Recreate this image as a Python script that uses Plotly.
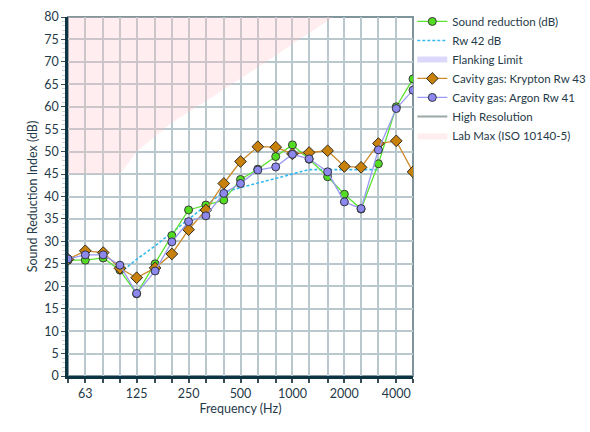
import plotly.graph_objects as go

bands = [50, 63, 80, 100, 125, 160, 200, 250, 315, 400, 500, 630, 800, 1000,
         1250, 1600, 2000, 2500, 3150, 4000, 5000]
tick_labels = ["", "63", "", "", "125", "", "", "250", "", "", "500", "", "",
               "1000", "", "", "2000", "", "", "4000", ""]

sound_reduction = [25.8, 25.8, 26.3, 23.6, 18.3, 25.0, 31.3, 37.0, 38.1, 39.2, 43.8,
                   46.1, 48.9, 51.5, 48.3, 44.4, 40.5, 37.2, 47.3, 60.0, 66.2]
krypton = [26.0, 27.9, 27.5, 24.0, 21.9, 24.1, 27.2, 32.6, 37.0, 42.9, 47.8,
           51.1, 51.0, 49.5, 49.8, 50.2, 46.7, 46.5, 51.8, 52.4, 45.5]
argon = [26.1, 27.0, 27.0, 24.7, 18.4, 23.4, 29.9, 34.4, 35.7, 40.7, 42.9,
         45.9, 46.6, 49.4, 48.4, 45.5, 38.8, 37.3, 50.4, 59.6, 63.7]

rw_bands = [100, 125, 160, 200, 250, 315, 400, 500, 630, 800, 1000, 1250,
            1600, 2000, 2500, 3150]
rw_curve = [23, 26, 29, 32, 35, 38, 41, 42, 43, 44, 45, 46, 46, 46, 46, 46]

lab_bands = [50, 63, 80, 100, 125, 160, 200, 250, 315, 400, 500, 630, 800,
             1000, 1250, 1600, 2000]
lab_max = [45, 45, 45, 45, 50, 53.5, 56.5, 58.8, 61.3, 63.8, 66.3, 68.8, 71.4,
           74.0, 76.5, 79.1, 81.6]
y_top = 80

FONT = "Lato"
TXT = "#1f3a48"

fig = go.Figure()

# Lab Max filled region (curve up to top of chart)
fig.add_trace(go.Scatter(
    x=lab_bands + lab_bands[::-1],
    y=lab_max + [y_top] * len(lab_bands),
    fill="toself", fillcolor="rgba(255,190,198,0.28)",
    line=dict(width=0), mode="lines", hoverinfo="skip",
    name="Lab Max (ISO 10140-5)", legendrank=7,
))

fig.add_trace(go.Scatter(
    x=rw_bands, y=rw_curve, mode="lines", name="Rw 42 dB",
    line=dict(color="#36b9f0", width=1.6, dash="3px,2px"), legendrank=2,
))

fig.add_trace(go.Scatter(
    x=[None], y=[None], mode="lines", name="Flanking Limit",
    line=dict(color="#dcd8fb", width=6), legendrank=3,
))
fig.add_trace(go.Scatter(
    x=[None], y=[None], mode="lines", name="High Resolution",
    line=dict(color="#9aaaa8", width=2), legendrank=6,
))

fig.add_trace(go.Scatter(
    x=bands, y=sound_reduction, mode="lines+markers", name="Sound reduction (dB)",
    line=dict(color="#5be232", width=1.3),
    marker=dict(symbol="circle", size=8, color="#52dc22",
                line=dict(color="#3a3a3a", width=1)),
    legendrank=1,
))
fig.add_trace(go.Scatter(
    x=bands, y=krypton, mode="lines+markers", name="Cavity gas: Krypton Rw 43",
    line=dict(color="#cc8a2a", width=1.3),
    marker=dict(symbol="diamond", size=9, color="#c8820c",
                line=dict(color="#2f2a20", width=1)),
    legendrank=4,
))
fig.add_trace(go.Scatter(
    x=bands, y=argon, mode="lines+markers", name="Cavity gas: Argon Rw 41",
    line=dict(color="#9a9af4", width=1.3),
    marker=dict(symbol="circle", size=8, color="#8d88ee",
                line=dict(color="#333340", width=1)),
    legendrank=5,
))

# plot frame (top/right lighter)
fig.add_shape(type="rect", xref="paper", yref="paper", x0=0, x1=1, y0=0, y1=1,
              line=dict(color="#7f959c", width=2), layer="below")

fig.update_xaxes(
    type="log", range=[1.69897, 3.69897],
    tickvals=bands, ticktext=tick_labels,
    showgrid=True, gridcolor="#b9c8cc", gridwidth=2,
    showline=True, linecolor="#0c3442", linewidth=2.5,
    ticks="outside", ticklen=4, tickcolor="#3b4d55", tickwidth=2,
    tickfont=dict(family=FONT, size=12.5, color=TXT),
    title=dict(text="Frequency (Hz)", font=dict(family=FONT, size=12.5, color=TXT),
               standoff=5),
    zeroline=False,
)
fig.update_yaxes(
    range=[0, 80], dtick=5, tick0=0,
    showgrid=True, gridcolor="#b9c8cc", gridwidth=2,
    showline=True, linecolor="#0c3442", linewidth=2.5,
    ticks="outside", ticklen=4, tickcolor="#3b4d55", tickwidth=1,
    minor=dict(dtick=1, ticks="outside", ticklen=3, tickcolor="#c9d2d5",
               tickwidth=1, showgrid=False),
    tickfont=dict(family=FONT, size=12.5, color=TXT),
    title=dict(text="Sound Reduction Index (dB)",
               font=dict(family=FONT, size=12.5, color=TXT), standoff=4),
    zeroline=False,
)

fig.update_layout(
    width=590, height=432,
    margin=dict(l=68, r=177, t=17, b=56, autoexpand=False),
    paper_bgcolor="white", plot_bgcolor="white",
    showlegend=True,
    legend=dict(x=0.998, y=1.028, xanchor="left", yanchor="top",
                font=dict(family=FONT, size=11.5, color=TXT),
                itemwidth=30, tracegroupgap=0, bgcolor="rgba(0,0,0,0)"),
)

fig.write_html("out.html")
